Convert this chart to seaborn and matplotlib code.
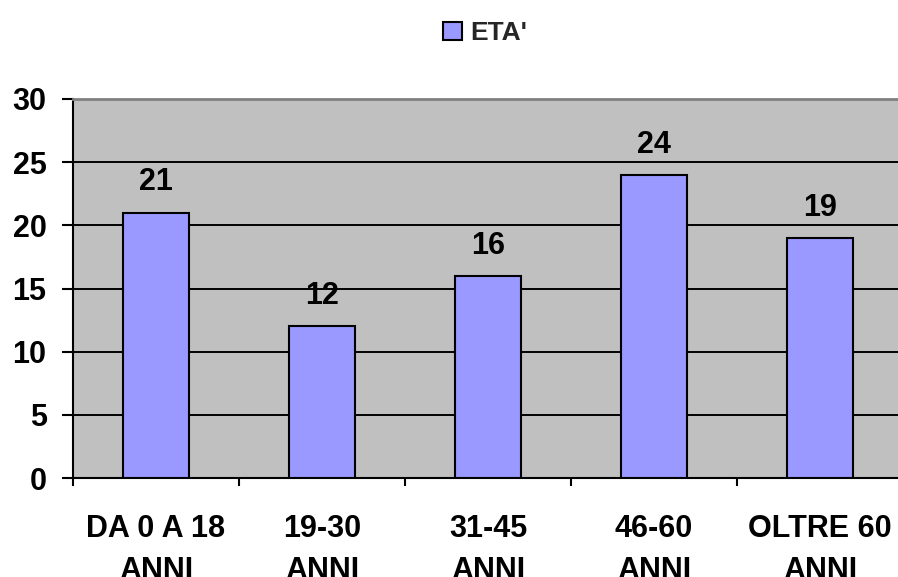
import matplotlib
matplotlib.use("Agg")
import matplotlib.pyplot as plt
import seaborn as sns
import pandas as pd
from matplotlib.patches import Patch
from matplotlib.ticker import FixedLocator

categories = ["DA 0 A 18\nANNI", "19-30\nANNI", "31-45\nANNI", "46-60\nANNI", "OLTRE 60\nANNI"]
values = [21, 12, 16, 24, 19]
series_name = "ETA'"
y_ticks = [0, 5, 10, 15, 20, 25, 30]

sns.set_theme(style="white")
plt.rcParams["font.family"] = ["Liberation Sans", "DejaVu Sans"]
plt.rcParams["font.weight"] = "bold"

df = pd.DataFrame({"cat": categories, "val": values})

fig = plt.figure(figsize=(8.98, 5.77), dpi=100)
ax = fig.add_axes([73 / 898, 1 - 478 / 577, 830 / 898, 379 / 577])
ax.set_facecolor("#C0C0C0")

sns.barplot(data=df, x="cat", y="val", color="#9999FF", width=0.4,
            edgecolor="black", linewidth=1.5, saturation=1, ax=ax, zorder=3)

ax.set_ylim(0, 30)
ax.set_xlim(-0.5, len(categories) - 0.5)
ax.set_yticks(y_ticks)
ax.yaxis.grid(True, color="black", linewidth=1.4, zorder=1)
ax.set_axisbelow(True)

ax.set_xlabel("")
ax.set_ylabel("")

# category labels centered, tick marks at category boundaries
ax.tick_params(axis="x", which="major", bottom=True, length=0, pad=26, labelsize=22)
ax.xaxis.set_minor_locator(FixedLocator([i - 0.5 for i in range(len(categories) + 1)]))
ax.tick_params(axis="x", which="minor", bottom=True, length=6, width=1.5,
               direction="out", color="black")
ax.tick_params(axis="y", left=True, length=8, width=1.5, direction="out", color="black",
               labelsize=22, pad=11)
for lbl in ax.get_xticklabels() + ax.get_yticklabels():
    lbl.set_fontweight("bold")
    lbl.set_color("black")
for lbl in ax.get_xticklabels():
    lbl.set_linespacing(1.5)

for side in ["left", "bottom"]:
    ax.spines[side].set_visible(True)
    ax.spines[side].set_color("black")
    ax.spines[side].set_linewidth(1.5)
ax.spines["top"].set_color("#808080")
ax.spines["top"].set_linewidth(2)
ax.spines["right"].set_visible(False)

for i, v in enumerate(values):
    ax.annotate(str(v), xy=(i, v), xytext=(0, 11), textcoords="offset points",
                ha="center", va="bottom", fontsize=22, fontweight="bold",
                color="black", annotation_clip=False)

handle = Patch(facecolor="#9999FF", edgecolor="black", linewidth=1.5, label=series_name)
fig.legend(handles=[handle], loc="center", bbox_to_anchor=(485 / 898, 1 - 33 / 577),
           frameon=False, prop={"weight": "bold", "size": 19},
           handlelength=0.7, handleheight=0.7, handletextpad=0.3)

fig.savefig("out.png", dpi=100)
